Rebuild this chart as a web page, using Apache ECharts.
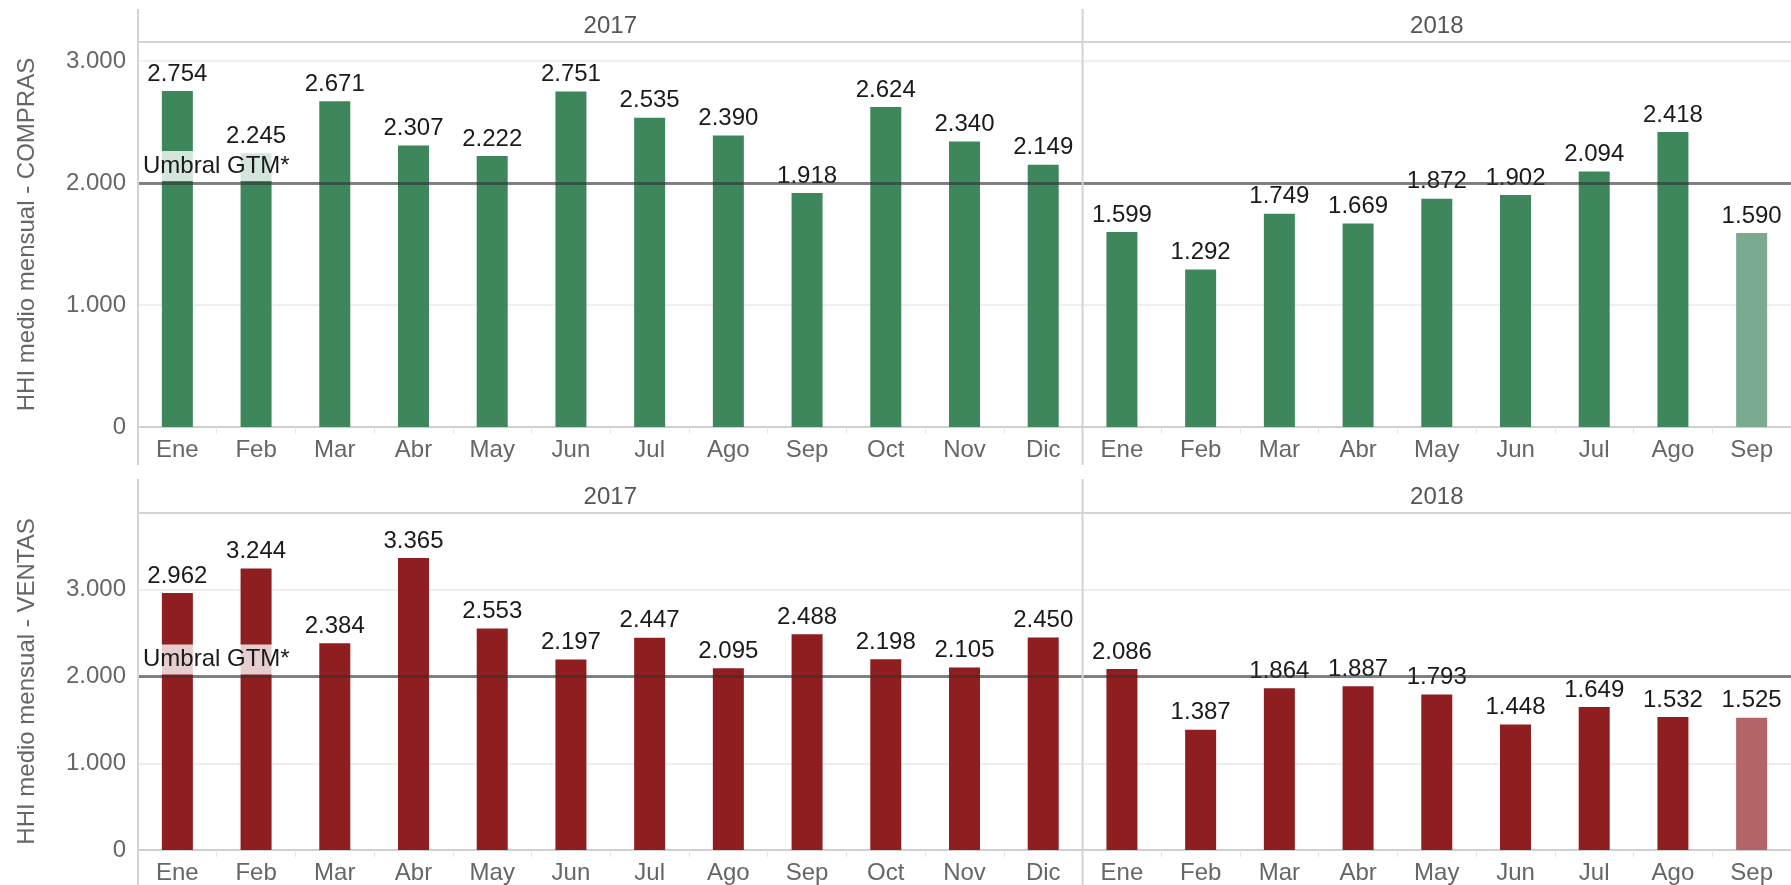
<!DOCTYPE html>
<html>
<head>
<meta charset="utf-8">
<script src="https://cdn.jsdelivr.net/npm/echarts@6/dist/echarts.min.js"></script>
<style>
  html, body { margin: 0; padding: 0; background: #fff; }
  #hhiChart { width: 1791px; height: 885px; }
</style>
</head>
<body>
<div id="hhiChart"></div>
<script>
// categorias (meses) por año
const years = ['2017', '2018'];
const months2017 = ['Ene', 'Feb', 'Mar', 'Abr', 'May', 'Jun', 'Jul', 'Ago', 'Sep', 'Oct', 'Nov', 'Dic'];
const months2018 = ['Ene', 'Feb', 'Mar', 'Abr', 'May', 'Jun', 'Jul', 'Ago', 'Sep'];

// HHI medio mensual
const compras2017 = [2754, 2245, 2671, 2307, 2222, 2751, 2535, 2390, 1918, 2624, 2340, 2149];
const compras2018 = [1599, 1292, 1749, 1669, 1872, 1902, 2094, 2418, 1590];
const ventas2017 = [2962, 3244, 2384, 3365, 2553, 2197, 2447, 2095, 2488, 2198, 2105, 2450];
const ventas2018 = [2086, 1387, 1864, 1887, 1793, 1448, 1649, 1532, 1525];

const umbralGTM = 2000;
const yTicks = [0, 1000, 2000, 3000];

const FONT = '"Liberation Sans", Arial, sans-serif';
const FS = 24;
const LEFT = 138;
const WIDTH = 1791;
const catW = (WIDTH - LEFT) / (months2017.length + months2018.length);
const divX = LEFT + months2017.length * catW;

const GREEN = '#3e875c';
const GREEN_LIGHT = '#7aab8e';
const RED = '#8e1e20';
const RED_LIGHT = '#b26466';

function fmt(v) {
  return String(v).replace(/\B(?=(\d{3})+(?!\d))/g, '.');
}

const categories = months2017.concat(months2018);

function barData(a, b, color, lastColor) {
  const all = a.concat(b);
  return all.map((v, i) => ({
    value: v,
    itemStyle: { color: i === all.length - 1 ? lastColor : color },
  }));
}

function xAxisFor(gridIndex) {
  return {
    type: 'category',
    gridIndex,
    data: categories,
    axisLine: { lineStyle: { color: '#cfcfcf', width: 2 } },
    axisTick: { show: true, alignWithLabel: false, length: 7, lineStyle: { color: '#e6e6e6' } },
    axisLabel: { color: '#666', fontSize: FS, fontFamily: FONT, margin: 11, interval: 0 },
  };
}

function yAxisFor(gridIndex, max, name) {
  return {
    type: 'value',
    gridIndex,
    min: 0,
    max,
    interval: 1000,
    name,
    nameLocation: 'middle',
    nameGap: 99,
    nameTextStyle: { color: '#666', fontSize: FS, fontFamily: FONT },
    axisLine: { show: false },
    axisTick: { show: false },
    axisLabel: {
      color: '#666', fontSize: FS, fontFamily: FONT, margin: 12, showMaxLabel: false,
      formatter: (v) => (yTicks.indexOf(v) >= 0 ? fmt(v) : ''),
    },
    splitLine: { lineStyle: { color: '#efefef', width: 2 } },
  };
}

function barSeries(idx, data) {
  return {
    type: 'bar',
    xAxisIndex: idx,
    yAxisIndex: idx,
    barWidth: 31,
    data,
    label: {
      show: true,
      position: 'top',
      distance: 5,
      color: '#1a1a1a',
      fontSize: FS,
      fontFamily: FONT,
      formatter: (p) => fmt(p.value),
    },
    markLine: {
      silent: true,
      symbol: 'none',
      data: [{ yAxis: umbralGTM }],
      lineStyle: { color: 'rgba(50,50,50,0.6)', width: 3, type: 'solid' },
      label: {
        show: true,
        position: 'insideStartTop',
        formatter: 'Umbral GTM*',
        color: '#1a1a1a',
        fontSize: FS,
        fontFamily: FONT,
        backgroundColor: 'rgba(255,255,255,0.78)',
        padding: [3, 3, 3, 3],
        distance: [2, 2],
      },
    },
  };
}

// lineas y etiquetas del encabezado (estilo tabla)
function panelGraphics(top, headerY, bottom) {
  const line = (x1, y1, x2, y2) => ({
    type: 'line',
    silent: true,
    z: 10,
    shape: { x1, y1, x2, y2 },
    style: { stroke: '#d4d4d4', lineWidth: 2 },
  });
  const text = (x, y, t) => ({
    type: 'text',
    silent: true,
    x,
    y,
    style: {
      text: t, fill: '#555', font: `${FS}px ${FONT}`, align: 'center', verticalAlign: 'middle',
    },
  });
  return [
    line(LEFT, top, LEFT, bottom),
    line(divX, top, divX, bottom),
    line(LEFT, headerY, WIDTH, headerY),
    text((LEFT + divX) / 2, (top + headerY) / 2 + 1, years[0]),
    text((divX + WIDTH) / 2, (top + headerY) / 2 + 1, years[1]),
  ];
}

const chart = echarts.init(document.getElementById('hhiChart'));
chart.setOption({
  animation: false,
  backgroundColor: '#fff',
  grid: [
    { left: LEFT, right: 0, top: 42, height: 385 },
    { left: LEFT, right: 0, top: 513, height: 338 },
  ],
  xAxis: [xAxisFor(0), xAxisFor(1)],
  yAxis: [
    yAxisFor(0, 3156, 'HHI medio mensual - COMPRAS'),
    yAxisFor(1, 3885, 'HHI medio mensual - VENTAS'),
  ],
  series: [
    barSeries(0, barData(compras2017, compras2018, GREEN, GREEN_LIGHT)),
    barSeries(1, barData(ventas2017, ventas2018, RED, RED_LIGHT)),
  ],
  graphic: panelGraphics(9, 42, 465).concat(panelGraphics(479, 513, 885)),
});
</script>
</body>
</html>
